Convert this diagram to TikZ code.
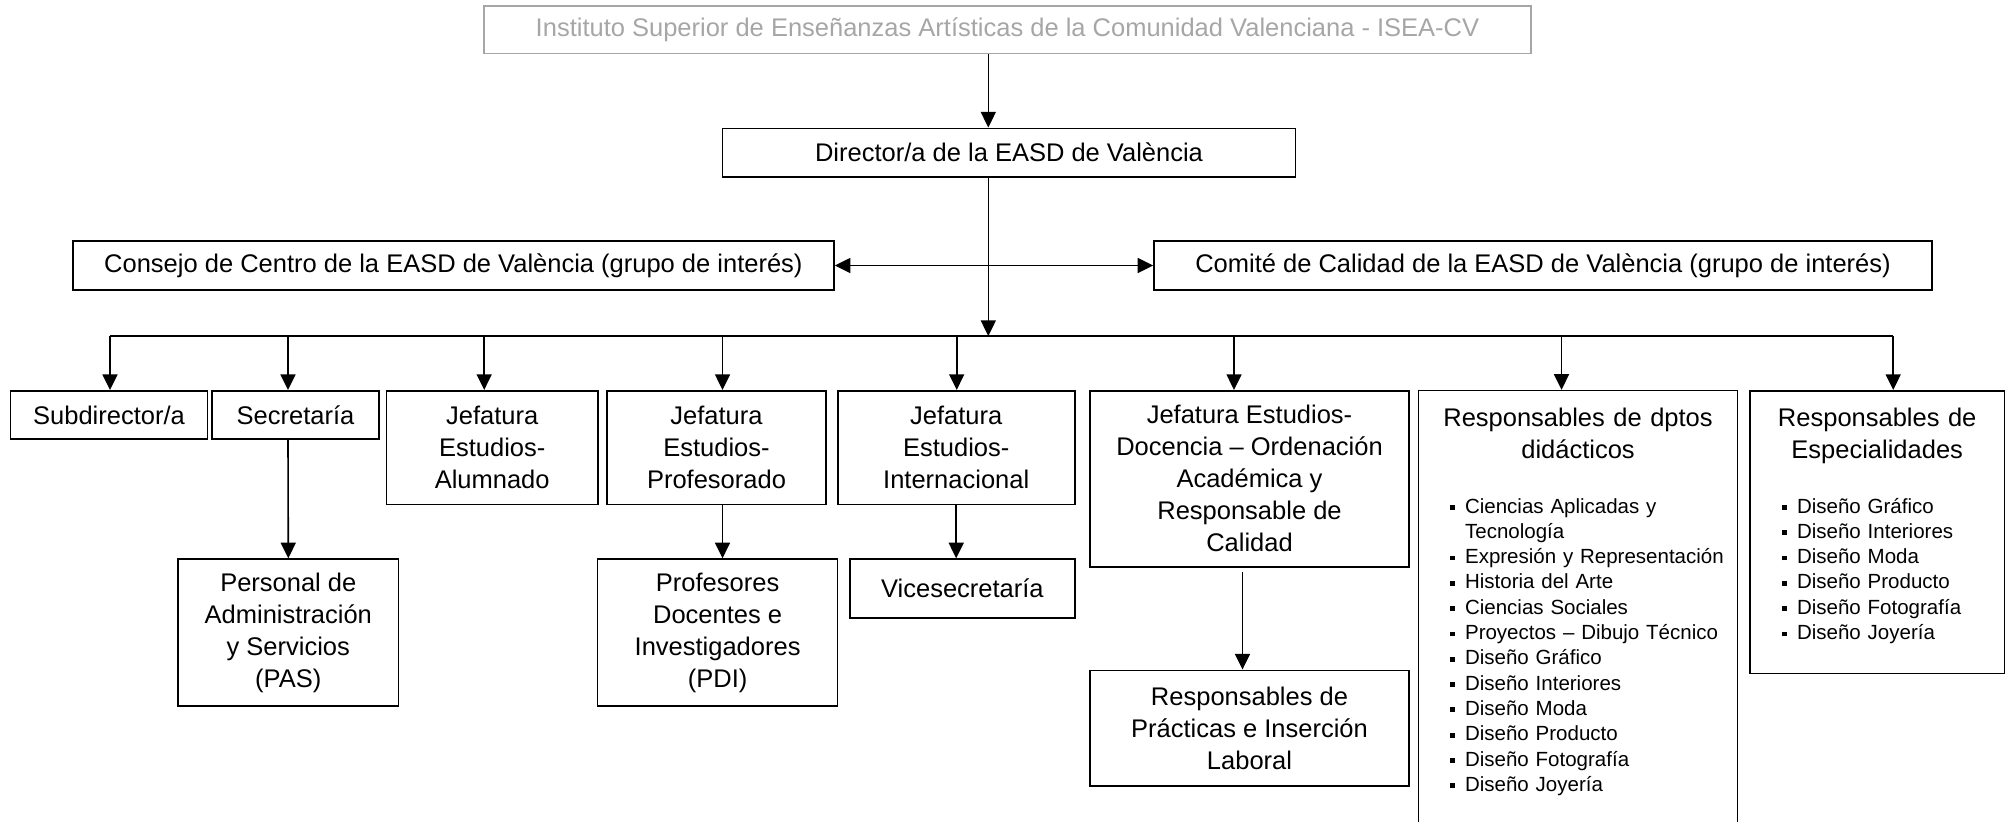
\documentclass[tikz,border=0pt]{standalone}
\usepackage{fontspec}
\setmainfont{Liberation Sans}
\usetikzlibrary{arrows.meta,positioning}
\definecolor{iseagray}{HTML}{A6A6A6}
\newcommand{\mainfs}{\fontsize{12.75pt}{16pt}\selectfont}
\newcommand{\listfs}{\fontsize{10.25pt}{12.65pt}\selectfont}
\newcommand{\sqitem}{\makebox[7.5pt][l]{\rule[1.6pt]{2.4pt}{2.4pt}}}

\begin{document}
\begin{tikzpicture}[x=0.5pt, y=-0.5pt,
  every node/.style={font=\mainfs},
  box/.style={draw, line width=0.8pt, inner sep=0pt, align=center},
  titletext/.style={text width=150pt, align=center, anchor=base},
  listtext/.style={text width=145pt, align=left, anchor=base west, font=\listfs},
  arr/.style={line width=0.8pt, -{Triangle[length=7.8pt,width=7.5pt]}},
  biarr/.style={line width=0.8pt, {Triangle[length=7.8pt,width=7.5pt]}-{Triangle[length=7.8pt,width=7.5pt]}}]

  \useasboundingbox (0,0) rectangle (2005,821);
  \clip (0,0) rectangle (2005,821);

  % ---- Top levels ----
  \node[box, draw=iseagray, text=iseagray, minimum width=523.5pt, minimum height=23.8pt]
    (isea) at (1007.5,29.5) {Instituto Superior de Enseñanzas Artísticas de la Comunidad Valenciana - ISEA-CV};
  \node[box, minimum width=286.5pt, minimum height=24.2pt] (dir) at (1009,152.5) {Director/a de la EASD de València};
  \node[box, minimum width=380.6pt, minimum height=24.5pt] (cons) at (453.4,265.5) {Consejo de Centro de la EASD de València (grupo de interés)};
  \node[box, minimum width=389pt, minimum height=24.5pt] (com) at (1543,265.5) {Comité de Calidad de la EASD de València (grupo de interés)};
  \coordinate (bus) at (988.3,336);

  % ---- Second row ----
  \node[box, minimum width=98.5pt, minimum height=24.2pt] (sub) at (109,415) {Subdirector/a};
  \node[box, minimum width=83.5pt, minimum height=24.2pt] (sec) at (295.5,415) {Secretaría};
  \node[box, minimum width=105.8pt, minimum height=56.8pt] (alum) at (492.2,447.5) {Jefatura\\Estudios-\\Alumnado};
  \node[box, minimum width=109.5pt, minimum height=56.8pt] (prof) at (716.5,447.5) {Jefatura\\Estudios-\\Profesorado};
  \node[box, minimum width=118.5pt, minimum height=56.8pt] (int) at (956.2,447.5) {Jefatura\\Estudios-\\Internacional};
  \node[box, minimum width=159.5pt, minimum height=88pt] (doc) at (1249.5,478.7)
    {Jefatura Estudios-\\Docencia – Ordenación\\Académica y\\Responsable de\\Calidad};

  % departments (box runs off the page)
  \node[box, minimum width=159.5pt, minimum height=219.7pt] (dptos) at (1578,610.3) {};
  \node[titletext] (dptos-t) at (1578,426) {Responsables de dptos\\didácticos};
  \node[listtext] (dptos-l) at (1443,513) {\sqitem Ciencias Aplicadas y\\\hspace*{7.5pt}Tecnología\\
    \sqitem Expresión y Representación\\\sqitem Historia del Arte\\\sqitem Ciencias Sociales\\
    \sqitem Proyectos – Dibujo Técnico\\\sqitem Diseño Gráfico\\\sqitem Diseño Interiores\\
    \sqitem Diseño Moda\\\sqitem Diseño Producto\\\sqitem Diseño Fotografía\\\sqitem Diseño Joyería};

  % specialities
  \node[box, minimum width=127.2pt, minimum height=141.3pt] (esp) at (1877.2,532) {};
  \node[titletext] (esp-t) at (1877.2,426) {Responsables de\\Especialidades};
  \node[listtext] (esp-l) at (1775,513) {\sqitem Diseño Gráfico\\\sqitem Diseño Interiores\\
    \sqitem Diseño Moda\\\sqitem Diseño Producto\\\sqitem Diseño Fotografía\\\sqitem Diseño Joyería};

  % ---- Third row ----
  \node[box, minimum width=110.2pt, minimum height=73.3pt] (pas) at (288.3,632.4) {Personal de\\Administración\\y Servicios\\(PAS)};
  \node[box, minimum width=120pt, minimum height=73.3pt] (pdi) at (717.6,632.4) {Profesores\\Docentes e\\Investigadores\\(PDI)};
  \node[box, minimum width=112.3pt, minimum height=29.3pt] (vice) at (962.4,588.4) {Vicesecretaría};
  \node[box, minimum width=159.5pt, minimum height=57.7pt] (prac) at (1249.5,728) {Responsables de\\Prácticas e Inserción\\Laboral};

  % ---- Connectors ----
  \draw[arr] (isea.south -| bus) -- (dir.north -| bus);
  \draw[arr] (dir.south -| bus) -- (bus);
  \draw[biarr] (cons.east) -- (com.west);

  \foreach \n/\dx in {sub/1, sec/-7.5, alum/-8, prof/6, int/0.5, doc/-15.5, dptos/-16.5, esp/16}
    \path (\n.north) ++(\dx,0) coordinate (\n-in);
  \draw[line width=0.8pt] (sub-in |- bus) -- (esp-in |- bus);
  \foreach \n in {sub,sec,alum,prof,int,doc,dptos,esp}
    \draw[arr] (\n-in |- bus) -- (\n-in);

  \path (prac.north) ++(-7,0) coordinate (prac-in);
  \draw[arr] (sec-in |- sec.south) -- (pas.north);
  \draw[arr] (prof-in |- prof.south) -- (prof-in |- pdi.north);
  \draw[arr] (int.south) -- (int.south |- vice.north);
  \draw[arr] ([yshift=-2pt]prac-in |- doc.south) -- (prac-in);

\end{tikzpicture}
\end{document}
